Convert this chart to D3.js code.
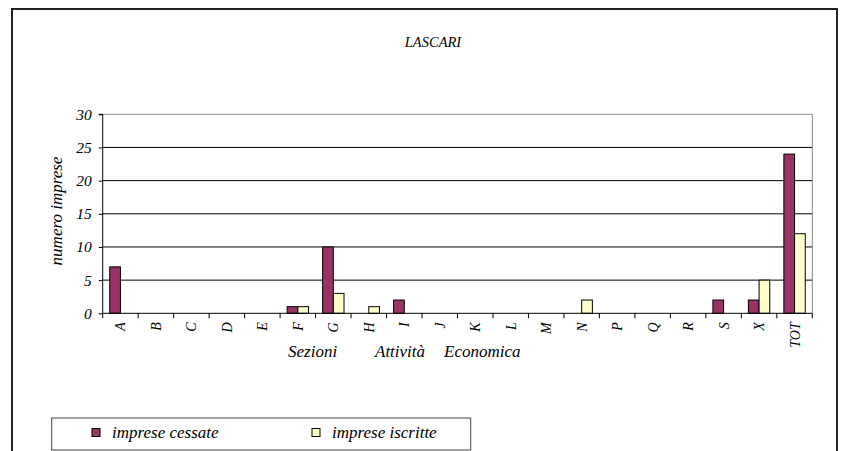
<!DOCTYPE html>
<html><head><meta charset="utf-8">
<script src="https://cdn.jsdelivr.net/npm/d3@7"></script>
</head><body style="margin:0;background:#fff">
<svg id="c" width="841" height="451"></svg>
<script>
const categories = ["A","B","C","D","E","F","G","H","I","J","K","L","M","N","P","Q","R","S","X","TOT"];
const cessate = [7,0,0,0,0,1,10,0,2,0,0,0,0,0,0,0,0,2,2,24];
const iscritte = [0,0,0,0,0,1,3,1,0,0,0,0,0,2,0,0,0,0,5,12];
const yTicks = [0,5,10,15,20,25,30];
const seriesNames = ["imprese cessate","imprese iscritte"];
const xTitleWords = ["Sezioni","Attività","Economica"];
const colors = ["#993366","#FFFFCC"];
const FONT = "Liberation Serif";

const svg = d3.select("#c");
// outer frame (bottom cut off)
svg.append("path").attr("d","M12,451 L12,9 L837,9 L837,451").attr("fill","none").attr("stroke","#222").attr("stroke-width",2);

const L=102.7, R=812.3, T=114.3, B=313.3;
const x = d3.scaleBand().domain(categories).range([L,R]);
const y = d3.scaleLinear().domain([0,30]).range([B,T]);
const sub = d3.scaleBand().domain([0,1]).range([0,x.bandwidth()]).paddingInner(0).paddingOuter(0.66);

function styleText(sel, size){
  return sel.attr("font-family",FONT).style("font-family",`"${FONT}"`).style("font-style","italic").style("font-size",size+"px").attr("fill","#000");
}

// gridlines
svg.append("g").selectAll("line").data(yTicks.filter(d=>d>0)).join("line")
  .attr("x1",L).attr("x2",R).attr("y1",d=>y(d)).attr("y2",d=>y(d))
  .attr("stroke",d=>d===30?"#888":"#000").attr("stroke-width",1);
svg.append("line").attr("x1",R).attr("x2",R).attr("y1",T).attr("y2",B).attr("stroke","#888");

// bars
const data = categories.map((c,i)=>({c,v:[cessate[i],iscritte[i]]}));
const g = svg.append("g").selectAll("g").data(data).join("g").attr("transform",d=>`translate(${x(d.c)},0)`);
g.selectAll("rect").data(d=>d.v.map((v,k)=>({v,k})).filter(e=>e.v>0)).join("rect")
  .attr("x",e=>sub(e.k)).attr("width",sub.bandwidth())
  .attr("y",e=>y(e.v)).attr("height",e=>B-y(e.v))
  .attr("fill",e=>colors[e.k]).attr("stroke","#000").attr("stroke-width",1);

// y axis
const ya = svg.append("g").attr("transform",`translate(${L},0)`)
  .call(d3.axisLeft(y).tickValues(yTicks).tickSize(4).tickPadding(7));
ya.attr("font-family",null).attr("font-size",null);
styleText(ya.selectAll("text"),15.5);
ya.select(".domain").attr("stroke","#000").attr("d",`M-4,${T}H0V${B}`);
ya.selectAll(".tick line").attr("stroke","#000");

// x axis
const xa = svg.append("g").attr("transform",`translate(0,${B})`);
xa.append("line").attr("x1",L).attr("x2",R).attr("stroke","#000");
const bounds = categories.map(c=>x(c)).concat([R]);
xa.selectAll("line.t").data(bounds).join("line").attr("class","t")
  .attr("x1",d=>d).attr("x2",d=>d).attr("y1",0).attr("y2",5).attr("stroke","#000");
styleText(xa.selectAll("text").data(categories).join("text")
  .attr("transform",d=>`translate(${x(d)+x.bandwidth()/2+5},9) rotate(-90)`)
  .attr("text-anchor","end").text(d=>d),14);

// titles
styleText(svg.append("text").attr("x",433).attr("y",47).attr("text-anchor","middle").text("LASCARI"),14.5);
const twx=[288,375,444];
xTitleWords.forEach((w,i)=>styleText(svg.append("text").attr("x",twx[i]).attr("y",357).text(w),17));
styleText(svg.append("text").attr("transform","translate(62,211) rotate(-90)").attr("text-anchor","middle").text("numero imprese"),17);

// legend
svg.append("rect").attr("x",51.7).attr("y",418).attr("width",419).attr("height",32).attr("fill","#fff").attr("stroke","#444");
const lx=[92,312];
seriesNames.forEach((n,k)=>{
  svg.append("rect").attr("x",lx[k]).attr("y",428.5).attr("width",8).attr("height",8).attr("fill",colors[k]).attr("stroke","#000");
  styleText(svg.append("text").attr("x",lx[k]+20).attr("y",438).text(n),17);
});
</script>
</body></html>
